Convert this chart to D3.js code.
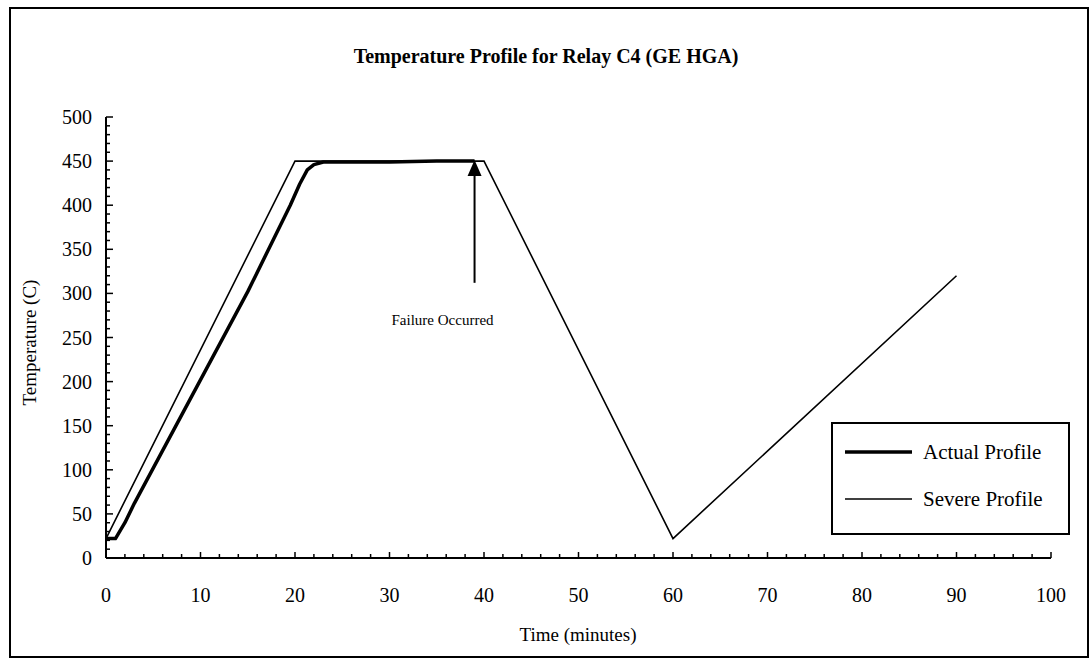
<!DOCTYPE html>
<html>
<head>
<meta charset="utf-8">
<script src="https://cdn.jsdelivr.net/npm/d3@7"></script>
<style>
  body { margin: 0; background: #fff; }
  text { font-family: "Liberation Serif", "Times New Roman", serif; fill: #000; }
</style>
</head>
<body>
<div id="chart"></div>
<script>
// data
var actualTime = [0, 1, 2, 3, 15, 19.5, 20.5, 21.3, 22, 23, 30, 35, 39];
var actualTemp = [22, 22, 40, 62, 302, 400, 424, 440, 446, 449, 449, 450, 450];
var severeTime = [0, 20, 40, 60, 90];
var severeTemp = [22, 450, 450, 22, 320];
var xTicks = [0, 10, 20, 30, 40, 50, 60, 70, 80, 90, 100];
var yTicks = [0, 50, 100, 150, 200, 250, 300, 350, 400, 450, 500];
var failureTime = 39;
var failureFrom = 312, failureTo = 450;

var width = 1092, height = 660;

var svg = d3.select('#chart').append('svg')
  .attr('width', width)
  .attr('height', height);

// outer frame
svg.append('rect')
  .attr('x', 10).attr('y', 8)
  .attr('width', 1078).attr('height', 649)
  .attr('fill', 'none').attr('stroke', '#000').attr('stroke-width', 2);

var x = d3.scaleLinear().domain([0, 100]).range([106, 1051]);
var y = d3.scaleLinear().domain([0, 500]).range([558, 117]);

// title
svg.append('text')
  .attr('x', 546).attr('y', 63)
  .attr('text-anchor', 'middle')
  .style('font-size', '20px').style('font-weight', 'bold')
  .text('Temperature Profile for Relay C4 (GE HGA)');

// y axis: minor ticks every 10, major every 50, drawn inward
var yAxis = svg.append('g').attr('transform', 'translate(' + x(0) + ',0)');
yAxis.append('line')
  .attr('x1', 0).attr('x2', 0).attr('y1', y(0)).attr('y2', y(500))
  .attr('stroke', '#000').attr('stroke-width', 2);
yAxis.selectAll('.ytick')
  .data(d3.range(0, 501, 10))
  .enter().append('line')
  .attr('x1', 0).attr('x2', function(d) { return d % 50 === 0 ? 7 : 4; })
  .attr('y1', function(d) { return y(d); }).attr('y2', function(d) { return y(d); })
  .attr('stroke', '#000').attr('stroke-width', 1.5);
yAxis.selectAll('.ylab')
  .data(yTicks)
  .enter().append('text')
  .attr('x', -14).attr('y', function(d) { return y(d); })
  .attr('dy', '0.35em')
  .attr('text-anchor', 'end')
  .style('font-size', '20px')
  .text(function(d) { return d; });

// x axis: minor ticks every 2, major every 10, drawn upward
var xAxis = svg.append('g').attr('transform', 'translate(0,' + y(0) + ')');
xAxis.append('line')
  .attr('x1', x(0)).attr('x2', x(100)).attr('y1', 0).attr('y2', 0)
  .attr('stroke', '#000').attr('stroke-width', 2);
xAxis.selectAll('.xtick')
  .data(d3.range(0, 101, 2))
  .enter().append('line')
  .attr('x1', function(d) { return x(d); }).attr('x2', function(d) { return x(d); })
  .attr('y1', 0).attr('y2', function(d) { return d % 10 === 0 ? -6 : -4; })
  .attr('stroke', '#000').attr('stroke-width', 1.5);
xAxis.selectAll('.xlab')
  .data(xTicks)
  .enter().append('text')
  .attr('x', function(d) { return x(d); }).attr('y', 44)
  .attr('text-anchor', 'middle')
  .style('font-size', '20px')
  .text(function(d) { return d; });

// axis titles
svg.append('text')
  .attr('transform', 'translate(36,' + ((y(0) + y(500)) / 2 + 5) + ') rotate(-90)')
  .attr('text-anchor', 'middle')
  .style('font-size', '19px')
  .text('Temperature (C)');
svg.append('text')
  .attr('x', 578).attr('y', 641)
  .attr('text-anchor', 'middle')
  .style('font-size', '19px')
  .text('Time (minutes)');

// lines
var line = d3.line()
  .x(function(d) { return x(d[0]); })
  .y(function(d) { return y(d[1]); });

svg.append('path')
  .datum(d3.zip(severeTime, severeTemp))
  .attr('d', line)
  .attr('fill', 'none').attr('stroke', '#000').attr('stroke-width', 1.6);

svg.append('path')
  .datum(d3.zip(actualTime, actualTemp))
  .attr('d', line)
  .attr('fill', 'none').attr('stroke', '#000').attr('stroke-width', 3.5)
  .attr('stroke-linejoin', 'round');

// failure arrow
var ax = x(failureTime);
svg.append('line')
  .attr('x1', ax).attr('x2', ax)
  .attr('y1', y(failureFrom)).attr('y2', y(failureTo) + 12)
  .attr('stroke', '#000').attr('stroke-width', 2);
svg.append('path')
  .attr('d', 'M' + ax + ',' + (y(failureTo) - 1) + 'L' + (ax - 7) + ',' + (y(failureTo) + 15) + 'L' + (ax + 7) + ',' + (y(failureTo) + 15) + 'Z')
  .attr('fill', '#000');
svg.append('text')
  .attr('x', ax - 32).attr('y', 325)
  .attr('text-anchor', 'middle')
  .style('font-size', '15px')
  .text('Failure Occurred');

// legend
var legend = svg.append('g').attr('transform', 'translate(832,423)');
legend.append('rect')
  .attr('width', 237).attr('height', 111)
  .attr('fill', '#fff').attr('stroke', '#000').attr('stroke-width', 2);
var legendItems = ['Actual Profile', 'Severe Profile'];
var legendWidths = [3.5, 1.6];
legend.selectAll('.lg')
  .data(legendItems)
  .enter().append('g')
  .each(function(d, i) {
    var g = d3.select(this).attr('transform', 'translate(0,' + (29 + i * 47) + ')');
    g.append('line')
      .attr('x1', 13).attr('x2', 80)
      .attr('stroke', '#000').attr('stroke-width', legendWidths[i]);
    g.append('text')
      .attr('x', 91).attr('dy', '0.35em')
      .style('font-size', '21px')
      .text(d);
  });
</script>
</body>
</html>
